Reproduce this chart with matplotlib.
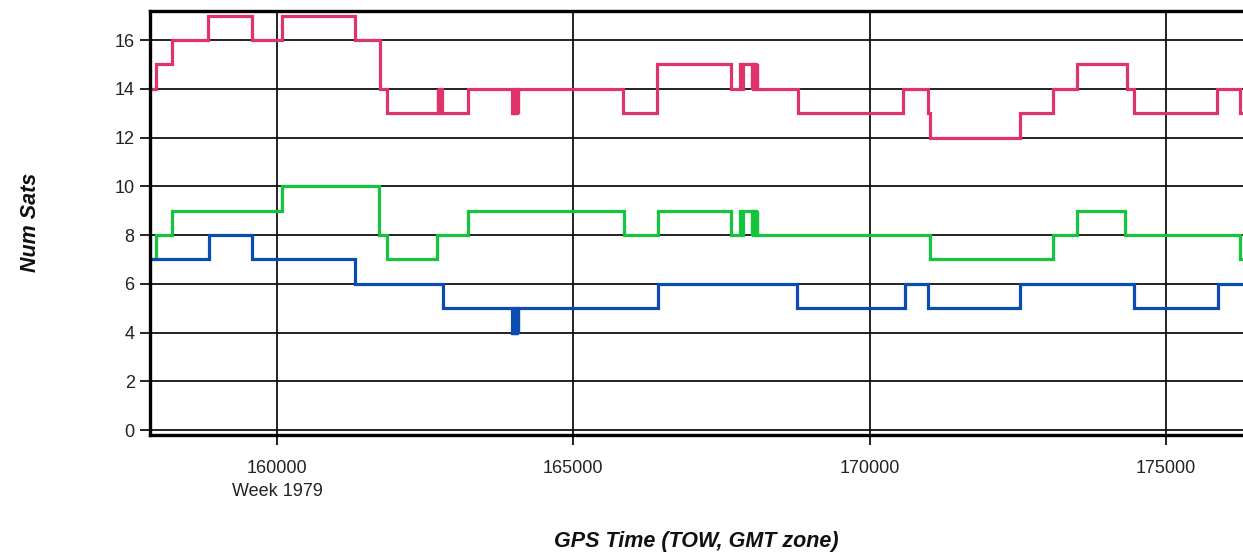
import matplotlib
matplotlib.use("Agg")
import matplotlib.pyplot as plt

plt.rcParams['font.family'] = ['Liberation Sans', 'DejaVu Sans']

# --- data: step change times (TOW, s) and values (number of satellites) ---
red_t = [157870, 157955, 158229, 158836, 159573, 160079, 161315, 161737, 161855,
         162712, 162724, 162736, 162748, 162760, 162772, 162784,
         163221,
         163965, 163977, 163989, 164001, 164013, 164025, 164037, 164049, 164061, 164073,
         165835, 166408, 167665, 167808, 167840, 167857,
         168010, 168022, 168034, 168046, 168058, 168070, 168082, 168094, 168106, 168118,
         168786, 170556, 170978, 171011, 172529, 173086, 173490,
         174334, 174452, 175851, 176239, 176300]
red_v = [14, 15, 16, 17, 16, 17, 16, 14, 13,
         14, 13, 14, 13, 14, 14, 13,
         14,
         13, 14, 13, 14, 13, 14, 13, 14, 13, 14,
         13, 15, 14, 15, 14, 15,
         14, 15, 14, 15, 14, 15, 14, 15, 14, 14,
         13, 14, 13, 12, 13, 14, 15,
         14, 13, 14, 13, 13]

green_t = [157870, 157960, 158229, 160084, 161720, 161855, 162698, 163221, 165851,
           166425, 167665, 167808, 167840, 167857,
           168010, 168022, 168034, 168046, 168058, 168070, 168082, 168094, 168106, 168118,
           171011, 173086, 173490, 174300, 176239, 176300]
green_v = [7, 8, 9, 10, 8, 7, 8, 9, 8,
           9, 8, 9, 8, 9,
           8, 9, 8, 9, 8, 9, 8, 9, 8, 8,
           7, 8, 9, 8, 7, 7]

blue_t = [157870, 158853, 159578, 161315, 162799,
          163965, 163977, 163989, 164001, 164013, 164025, 164037, 164049, 164061, 164073,
          166425, 168769, 170590, 170978, 172529, 174452, 175868, 176300]
blue_v = [7, 8, 7, 6, 5,
          4, 5, 4, 5, 4, 5, 4, 5, 4, 5,
          6, 5, 6, 5, 6, 5, 6, 6]

x_ticks = [160000, 165000, 170000, 175000]
x_tick_labels = ["160000\nWeek 1979", "165000", "170000", "175000"]
y_ticks = [0, 2, 4, 6, 8, 10, 12, 14, 16]

RED = "#e0336a"
GREEN = "#14c43c"
BLUE = "#0a4cb0"

fig = plt.figure(figsize=(12.43, 5.57), dpi=100)
ax = fig.add_axes([150 / 1243, 1 - 435 / 557, 1.0 - 150 / 1243, (435 - 11) / 557])

ax.set_xlim(157858, 176298)
ax.set_ylim(-0.2, 17.19)

ax.set_xticks(x_ticks)
ax.set_xticklabels(x_tick_labels, linespacing=1.5)
ax.set_yticks(y_ticks)

ax.grid(True, color="#111111", linewidth=1.3)
ax.set_axisbelow(True)

for t, v, c in [(red_t, red_v, RED), (green_t, green_v, GREEN), (blue_t, blue_v, BLUE)]:
    ax.plot(t, v, drawstyle="steps-post", color=c, linewidth=2.3, solid_joinstyle="miter")

for side in ["left", "bottom", "top"]:
    ax.spines[side].set_linewidth(2.4)
    ax.spines[side].set_color("#000000")
ax.spines["right"].set_visible(False)

ax.tick_params(axis="both", direction="out", length=7, width=1.3, color="#111111",
               labelsize=13, labelcolor="#222222")
ax.tick_params(axis="x", pad=11)
ax.tick_params(axis="y", pad=4)

fig.text(696 / 1243, 1 - 541 / 557, "GPS Time (TOW, GMT zone)", ha="center", va="center",
         fontsize=15.5, fontweight="bold", fontstyle="italic", color="#111111")
fig.text(30 / 1243, 1 - 222 / 557, "Num Sats", ha="center", va="center", rotation=90,
         fontsize=15.5, fontweight="bold", fontstyle="italic", color="#111111")

fig.savefig("out.png", dpi=100)
